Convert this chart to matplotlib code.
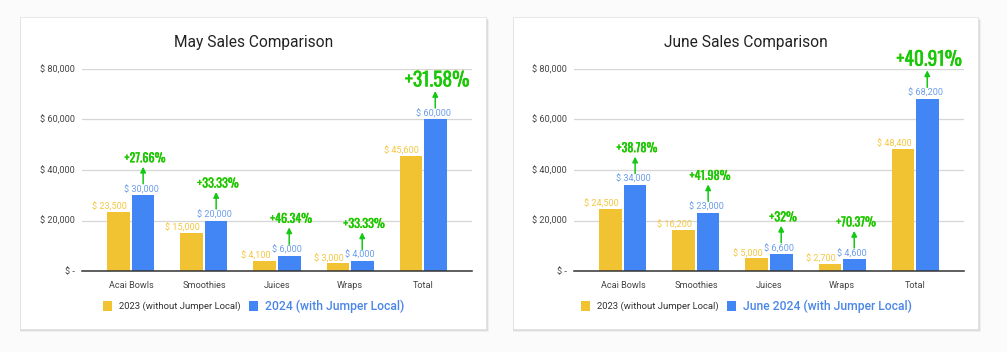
import matplotlib.pyplot as plt
import matplotlib.patches as mpatches
import matplotlib.patheffects as pe
from matplotlib.transforms import offset_copy
import numpy as np

categories = ['Acai Bowls', 'Smoothies', 'Juices', 'Wraps', 'Total']

may_2023 = [23500, 15000, 4100, 3000, 45600]
may_2024 = [30000, 20000, 6000, 4000, 60000]
may_pct = ['+27.66%', '+33.33%', '+46.34%', '+33.33%', '+31.58%']

june_2023 = [24500, 16200, 5000, 2700, 48400]
june_2024 = [34000, 23000, 6600, 4600, 68200]
june_pct = ['+38.78%', '+41.98%', '+32%', '+70.37%', '+40.91%']

yticks = [0, 20000, 40000, 60000, 80000]
ytick_labels = ['$ -', '$ 20,000', '$ 40,000', '$ 60,000', '$ 80,000']

YELLOW = '#f1c232'
BLUE = '#4285f4'
YELLOW_TXT = '#f4c843'
BLUE_TXT = '#6d9eeb'
GREEN = '#14c814'

W, H = 1007, 352
fig = plt.figure(figsize=(W / 100, H / 100), dpi=100)
fig.patch.set_facecolor('#fbfbfb')
plt.rcParams['font.family'] = ['Roboto', 'DejaVu Sans']
NARROW = ['Oswald', 'Roboto Condensed', 'Barlow Condensed', 'DejaVu Sans']
LBL = 6.6


def px(x, y, w, h):
    # pixel box (top-left origin) -> figure fraction
    return [x / W, 1 - (y + h) / H, w / W, h / H]


def card(x0, x1, y0, y1):
    l, b, w, h = px(x0, y0, x1 - x0, y1 - y0)
    for i, a in enumerate([0.10, 0.18, 0.30]):
        off = 3 - i
        fig.patches.append(mpatches.Rectangle(
            (l - 0.5 / W, b - off / H), w + off / W, h, transform=fig.transFigure,
            facecolor='#888888', alpha=a, edgecolor='none', zorder=0))
    fig.patches.append(mpatches.Rectangle(
        (l, b), w, h, transform=fig.transFigure, facecolor='white',
        edgecolor='#e4e4e4', linewidth=0.6, zorder=0.5))


def legend_item(x, y, color, label, size, tcolor, weight='normal'):
    fig.patches.append(mpatches.Rectangle(
        (x / W, 1 - (y + 5) / H), 9 / W, 10 / H, transform=fig.transFigure,
        facecolor=color, edgecolor='none', zorder=1))
    fig.text((x + 16) / W, 1 - y / H, label, ha='left', va='center',
             fontsize=size, color=tcolor, fontweight=weight, zorder=3)


def draw_chart(x0, title, y23, y24, pcts):
    ax = fig.add_axes(px(x0, 69, 390, 202))
    ax.set_zorder(2)
    ax.set_facecolor('none')
    x = np.arange(len(categories))
    ax.bar(x - 0.167, y23, width=0.31, color=YELLOW, zorder=3)
    ax.bar(x + 0.167, y24, width=0.31, color=BLUE, zorder=3)
    ax.set_xlim(-0.67, 4.67)
    ax.set_ylim(0, 80000)
    ax.set_yticks(yticks)
    ax.set_yticklabels(ytick_labels)
    ax.set_xticks(x)
    ax.set_xticklabels(categories)
    ax.tick_params(length=0, labelsize=LBL, colors='#444444', pad=5)
    ax.tick_params(axis='x', pad=7)
    ax.grid(axis='y', color='#d6d6d6', linewidth=0.9, zorder=0)
    for s in ['top', 'right', 'left']:
        ax.spines[s].set_visible(False)
    ax.spines['bottom'].set_color('#333333')
    ax.spines['bottom'].set_linewidth(1.1)
    ax.spines['bottom'].set_zorder(4)

    for i in range(len(categories)):
        xb = x[i] + 0.167
        ax.annotate('$ {:,}'.format(y23[i]), (x[i] - 0.167, y23[i]),
                    xytext=(-9, 0), textcoords='offset pixels',
                    ha='center', va='bottom', fontsize=LBL, color=YELLOW_TXT, zorder=5)
        ax.annotate('$ {:,}'.format(y24[i]), (xb, y24[i]),
                    xytext=(-2, 1), textcoords='offset pixels',
                    ha='center', va='bottom', fontsize=LBL, color=BLUE_TXT, zorder=5)
        big = i == len(categories) - 1
        t = ax.annotate(pcts[i], (xb, y24[i]),
                        xytext=(2, 40 if big else 37), textcoords='offset pixels',
                        ha='center', va='center', fontsize=14 if big else 8.8,
                        family=NARROW, fontweight=300 if not big else 400,
                        color=GREEN, zorder=6, annotation_clip=False)
        t.set_path_effects([pe.withStroke(linewidth=0.4, foreground='#d8e84a'),
                            pe.Normal()])
        # green arrow between the value label and the percentage
        ax.annotate('', xy=(xb, y24[i]),
                    xycoords=offset_copy(ax.transData, fig=fig, y=28.5, units='dots'),
                    xytext=(xb, y24[i]),
                    textcoords=offset_copy(ax.transData, fig=fig, y=11.5, units='dots'),
                    arrowprops=dict(arrowstyle='-|>', color=GREEN, lw=1.1,
                                    mutation_scale=8, shrinkA=0, shrinkB=0),
                    annotation_clip=False, zorder=6)

    fig.text((x0 + 172) / W, 1 - 43 / H, title, ha='center', va='center',
             fontsize=11.2, color='#222222', zorder=3)
    return ax


card(20, 486, 17, 329)
card(513, 978, 17, 329)

draw_chart(82, 'May Sales Comparison', may_2023, may_2024, may_pct)
draw_chart(574, 'June Sales Comparison', june_2023, june_2024, june_pct)

legend_item(103, 306, YELLOW, '2023 (without Jumper Local)', 6.8, '#333333')
legend_item(249, 306, BLUE, '2024 (with Jumper Local)', 8.7, '#4a86e8', 'medium')
legend_item(581, 306, YELLOW, '2023 (without Jumper Local)', 6.8, '#333333')
legend_item(727, 306, BLUE, 'June 2024 (with Jumper Local)', 8.7, '#4a86e8', 'medium')

fig.savefig('out.png', dpi=100, facecolor=fig.get_facecolor())
